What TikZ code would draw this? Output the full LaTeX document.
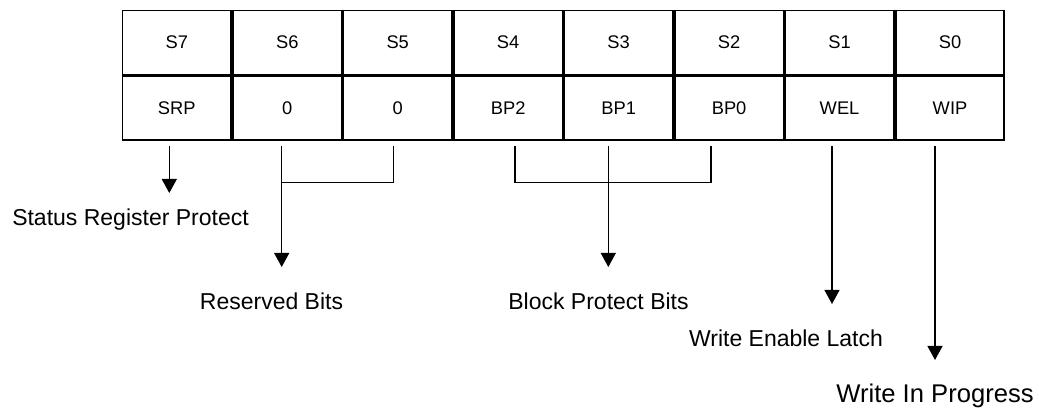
\documentclass[tikz,border=0pt]{standalone}
\usepackage{fontspec}
\setmainfont{Liberation Sans}
\usetikzlibrary{arrows.meta, positioning}

\begin{document}
\begin{tikzpicture}[x=0.5pt, y=-0.5pt, >={Triangle[width=7.5pt,length=7pt]},
    cell/.style={draw, line width=0.9pt, minimum width=54.33pt, minimum height=32pt, inner sep=0pt, font=\fontsize{9.15}{11}\selectfont},
    lbl/.style={anchor=base, inner sep=0pt, font=\fontsize{11.5}{14}\selectfont},
    wire/.style={line width=0.6pt}]
    \useasboundingbox (0,0) rectangle (1039,410);

    % Bit numbers
    \node[cell] (s7) at (176.8,42.5) {S7};
    \node[cell, right=0pt of s7] (s6) {S6};
    \node[cell, right=0pt of s6] (s5) {S5};
    \node[cell, right=0pt of s5] (s4) {S4};
    \node[cell, right=0pt of s4] (s3) {S3};
    \node[cell, right=0pt of s3] (s2) {S2};
    \node[cell, right=0pt of s2] (s1) {S1};
    \node[cell, right=0pt of s1] (s0) {S0};

    % Bit names
    \node[cell, below=0pt of s7] (srp) {SRP};
    \node[cell, right=0pt of srp] (res6) {0};
    \node[cell, right=0pt of res6] (res5) {0};
    \node[cell, right=0pt of res5] (bp2) {BP2};
    \node[cell, right=0pt of bp2] (bp1) {BP1};
    \node[cell, right=0pt of bp1] (bp0) {BP0};
    \node[cell, right=0pt of bp0] (wel) {WEL};
    \node[cell, right=0pt of wel] (wip) {WIP};

    % Labels
    \node[lbl] (lsrp) at (130.5,225.7) {Status Register Protect};
    \node[lbl] (lres) at (271.5,309.3) {Reserved Bits};
    \node[lbl] (lbp) at (598.5,309.3) {Block Protect Bits};
    \node[lbl] (lwel) at (786,346.7) {Write Enable Latch};
    \node[lbl, font=\fontsize{12.8}{15}\selectfont] (lwip) at (935,402.3) {Write In Progress};

    % Arrow ends
    \coordinate (armtop) at (0,146);
    \coordinate (srptip) at (169.3,193);
    \coordinate (restip) at (281.7,267);
    \coordinate (resjoin) at (393.3,182.3);
    \coordinate (bpleft) at (515,182.3);
    \coordinate (bpright) at (711,182.3);
    \coordinate (bptip) at (608.3,267);
    \coordinate (weltip) at (832,304);
    \coordinate (wiptip) at (935,360);

    % Arrows
    \draw[wire, ->] (srptip |- armtop) -- (srptip);
    \draw[wire, ->] (restip |- armtop) -- (restip);
    \draw[wire] (resjoin |- armtop) -- (resjoin) -- (restip |- resjoin);
    \draw[wire] (bpleft |- armtop) -- (bpleft) -- (bpright) -- (bpright |- armtop);
    \draw[wire, ->] (bptip |- armtop) -- (bptip);
    \draw[wire, ->] (weltip |- armtop) -- (weltip);
    \draw[wire, ->] (wiptip |- armtop) -- (wiptip);
\end{tikzpicture}
\end{document}
